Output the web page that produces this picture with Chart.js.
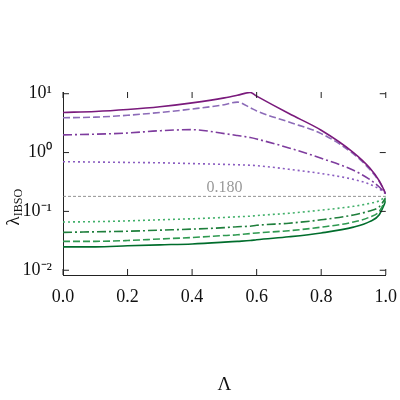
<!DOCTYPE html>
<html>
<head>
<script src="https://cdn.jsdelivr.net/npm/chart.js@4"></script>
<style>body{margin:0;background:#fff}#wrap{width:400px;height:400px}</style>
</head>
<body>
<div id="wrap"><canvas id="chart"></canvas></div>
<script>
const LAMBDA = [0, 0.1, 0.2, 0.3, 0.4, 0.5, 0.54, 0.58, 0.6, 0.7, 0.8, 0.9, 0.95, 0.98, 1.0];

const purpleSolid = [4.8, 5.0, 5.4, 6.0, 7.0, 8.5, 9.4, 10.5, 9.1, 4.6, 2.4, 1.0, 0.55, 0.33, 0.2];
const purpleDashed = [3.9, 4.0, 4.3, 4.8, 5.5, 6.5, 7.2, 5.8, 5.1, 3.3, 2.1, 0.95, 0.52, 0.32, 0.2];
const purpleDashDot = [2.0, 2.05, 2.15, 2.35, 2.45, 2.1, 1.95, 1.8, 1.7, 1.2, 0.8, 0.5, 0.35, 0.26, 0.2];
const purpleDotted = [0.7, 0.69, 0.68, 0.67, 0.65, 0.63, 0.62, 0.61, 0.6, 0.52, 0.44, 0.35, 0.29, 0.24, 0.2];
const greenDotted = [0.066, 0.067, 0.069, 0.072, 0.075, 0.079, 0.081, 0.083, 0.085, 0.093, 0.105, 0.122, 0.137, 0.152, 0.18];
const greenDashDot = [0.044, 0.045, 0.046, 0.048, 0.050, 0.053, 0.055, 0.056, 0.058, 0.063, 0.072, 0.087, 0.102, 0.12, 0.17];
const greenDashed = [0.031, 0.031, 0.032, 0.034, 0.036, 0.039, 0.040, 0.042, 0.043, 0.047, 0.054, 0.066, 0.08, 0.1, 0.16];
const greenSolid = [0.025, 0.025, 0.026, 0.027, 0.028, 0.030, 0.031, 0.032, 0.033, 0.037, 0.043, 0.054, 0.067, 0.088, 0.15];

const REF_X = [0, 1];
const REF_VALUE = 0.18;
const REF_LABEL = '0.180';

const Y_TICKS = [0.01, 0.1, 1, 10];
const Y_TICK_LABELS = ['10⁻²', '10⁻¹', '10⁰', '10¹'];
const X_TICKS = [0, 0.2, 0.4, 0.6, 0.8, 1.0];

const FONT = 'Liberation Serif';

function series(values, colour, dash) {
  return {
    data: LAMBDA.map((x, i) => ({x: x, y: values[i]})),
    borderColor: colour,
    borderWidth: 1.6,
    borderDash: dash,
    pointRadius: 0,
    cubicInterpolationMode: 'monotone',
    fill: false,
  };
}

// inward ticks on all four sides, reference label, y title with subscript
const frameTicks = {
  id: 'frameTicks',
  afterDraw(chart) {
    const {ctx, chartArea: a, scales: {x, y}} = chart;
    ctx.save();
    ctx.strokeStyle = '#222';
    ctx.lineWidth = 1;
    ctx.beginPath();
    X_TICKS.forEach(v => {
      const px = x.getPixelForValue(v);
      ctx.moveTo(px, a.bottom); ctx.lineTo(px, a.bottom - 6);
      ctx.moveTo(px, a.top); ctx.lineTo(px, a.top + 6);
    });
    Y_TICKS.forEach(v => {
      const py = y.getPixelForValue(v);
      ctx.moveTo(a.left, py); ctx.lineTo(a.left + 6, py);
      ctx.moveTo(a.right, py); ctx.lineTo(a.right - 6, py);
    });
    ctx.stroke();
    ctx.fillStyle = '#999';
    ctx.font = '16px "' + FONT + '"';
    ctx.textAlign = 'center';
    ctx.textBaseline = 'bottom';
    ctx.fillText(REF_LABEL, x.getPixelForValue(0.5), y.getPixelForValue(REF_VALUE) - 1);

    ctx.translate(14, (a.top + a.bottom) / 2 + 12);
    ctx.rotate(-Math.PI / 2);
    ctx.fillStyle = '#111';
    ctx.textAlign = 'left';
    ctx.textBaseline = 'middle';
    ctx.font = '19px "' + FONT + '"';
    ctx.fillText('λ', -30, 0);
    const w = ctx.measureText('λ').width;
    ctx.font = '12px "' + FONT + '"';
    ctx.fillText('IBSO', -30 + w, 5);
    ctx.restore();
  }
};

new Chart(document.getElementById('chart'), {
  type: 'line',
  data: {
    datasets: [
      series(purpleSolid, '#7a1a7c', []),
      series(purpleDashed, '#8c6bb8', [7, 3]),
      series(purpleDashDot, '#7e3c9e', [9, 3, 2, 3]),
      series(purpleDotted, '#8a5cc0', [2, 3]),
      series(greenDotted, '#41b06a', [2, 3]),
      series(greenDashDot, '#1f7f3c', [9, 3, 2, 3]),
      series(greenDashed, '#2e9950', [7, 3]),
      series(greenSolid, '#006d2c', []),
      {
        data: REF_X.map(x => ({x: x, y: REF_VALUE})),
        borderColor: '#777',
        borderWidth: 0.8,
        borderDash: [3, 2],
        pointRadius: 0,
      },
    ],
  },
  options: {
    responsive: true,
    maintainAspectRatio: false,
    animation: false,
    layout: {padding: {top: 92, right: 9, bottom: 0, left: 0}},
    plugins: {legend: {display: false}, tooltip: {enabled: false}},
    scales: {
      x: {
        type: 'linear', min: 0, max: 1,
        grid: {display: false},
        border: {color: '#222'},
        afterFit: s => { s.height = 125; },
        ticks: {stepSize: 0.2, color: '#111', font: {family: FONT, size: 18},
          callback: v => v.toFixed(1)},
        title: {display: true, text: 'Λ', color: '#111', font: {family: FONT, size: 19}, padding: {top: 0}},
      },
      y: {
        type: 'logarithmic', min: 0.0083, max: 10.7,
        grid: {display: false},
        border: {color: '#222'},
        afterBuildTicks: s => { s.ticks = Y_TICKS.map(v => ({value: v})); },
        afterFit: s => { s.width = 63; },
        ticks: {color: '#111', font: {family: FONT, size: 18},
          callback: v => Y_TICK_LABELS[Y_TICKS.indexOf(v)]},
      },
    },
  },
  plugins: [frameTicks],
});
</script>
</body>
</html>
